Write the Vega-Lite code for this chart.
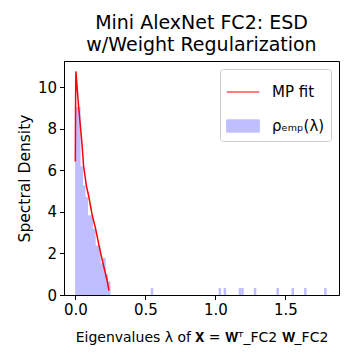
{
  "$schema": "https://vega.github.io/schema/vega-lite/v6.json",
  "width": 275,
  "height": 234,
  "autosize": {"type": "none"},
  "padding": {"left": 64, "top": 61, "right": 21, "bottom": 65},
  "background": "white",
  "title": {
    "text": ["Mini AlexNet FC2: ESD", "w/Weight Regularization"],
    "font": "DejaVu Sans",
    "fontSize": 19,
    "fontWeight": "normal",
    "color": "black",
    "anchor": "middle",
    "offset": 6,
    "lineHeight": 22
  },
  "config": {
    "view": {"stroke": "black", "strokeWidth": 1},
    "axis": {
      "grid": false,
      "domainColor": "black",
      "tickColor": "black",
      "labelColor": "black",
      "titleColor": "black",
      "labelFont": "DejaVu Sans",
      "titleFont": "DejaVu Sans",
      "labelFontSize": 15,
      "titleFontSize": 15.5,
      "titleFontWeight": "normal",
      "tickSize": 4.5,
      "labelPadding": 3,
      "domainWidth": 1,
      "tickWidth": 1
    }
  },
  "datasets": {
    "hist": [
      {"x0": 0.0, "x1": 0.01795, "density": 9.04},
      {"x0": 0.01795, "x1": 0.0359, "density": 9.04},
      {"x0": 0.0359, "x1": 0.05385, "density": 6.18},
      {"x0": 0.05385, "x1": 0.0718, "density": 5.26},
      {"x0": 0.0718, "x1": 0.08975, "density": 4.7},
      {"x0": 0.08975, "x1": 0.1077, "density": 3.82},
      {"x0": 0.1077, "x1": 0.12565, "density": 3.82},
      {"x0": 0.12565, "x1": 0.1436, "density": 3.19},
      {"x0": 0.1436, "x1": 0.16155, "density": 2.37},
      {"x0": 0.16155, "x1": 0.1795, "density": 2.37},
      {"x0": 0.1795, "x1": 0.19745, "density": 1.52},
      {"x0": 0.19745, "x1": 0.2154, "density": 1.78},
      {"x0": 0.2154, "x1": 0.23335, "density": 1.01},
      {"x0": 0.23335, "x1": 0.2513, "density": 0.66},
      {"x0": 0.5385, "x1": 0.55645, "density": 0.34},
      {"x0": 1.02315, "x1": 1.0411, "density": 0.34},
      {"x0": 1.05905, "x1": 1.077, "density": 0.34},
      {"x0": 1.16675, "x1": 1.1847, "density": 0.34},
      {"x0": 1.1847, "x1": 1.20265, "density": 0.34},
      {"x0": 1.27445, "x1": 1.2924, "density": 0.34},
      {"x0": 1.436, "x1": 1.45395, "density": 0.34},
      {"x0": 1.5437, "x1": 1.56165, "density": 0.34},
      {"x0": 1.63345, "x1": 1.6514, "density": 0.34},
      {"x0": 1.77705, "x1": 1.795, "density": 0.34}
    ],
    "mp": [
      {"lambda": 0.0, "density": 6.42},
      {"lambda": 0.002, "density": 9.6},
      {"lambda": 0.004, "density": 10.75},
      {"lambda": 0.0236, "density": 9.04},
      {"lambda": 0.0474, "density": 7.27},
      {"lambda": 0.059, "density": 6.18},
      {"lambda": 0.0786, "density": 5.26},
      {"lambda": 0.097, "density": 4.7},
      {"lambda": 0.121, "density": 3.82},
      {"lambda": 0.145, "density": 3.18},
      {"lambda": 0.169, "density": 2.37},
      {"lambda": 0.193, "density": 1.65},
      {"lambda": 0.216, "density": 1.01},
      {"lambda": 0.228, "density": 0.66},
      {"lambda": 0.24, "density": 0.21}
    ]
  },
  "layer": [
    {
      "data": {"name": "hist"},
      "transform": [{"filter": "datum.x0 < 0.3"}],
      "mark": {"type": "area", "interpolate": "step-after", "color": "#bfbfff", "opacity": 1},
      "encoding": {
        "x": {"field": "x0", "type": "quantitative"},
        "y": {"field": "density", "type": "quantitative"}
      }
    },
    {
      "data": {"name": "hist"},
      "mark": {"type": "rect", "color": "#bfbfff", "opacity": 1},
      "encoding": {
        "x": {
          "field": "x0",
          "type": "quantitative",
          "scale": {"domain": [-0.081, 1.883], "nice": false, "zero": false},
          "axis": {"values": [0, 0.5, 1, 1.5], "format": ".1f", "title": "Eigenvalues λ of 𝐗 = 𝐖ᵀ_FC2 𝐖_FC2", "titleFontSize": 14, "titlePadding": 13}
        },
        "x2": {"field": "x1"},
        "y": {
          "field": "density",
          "type": "quantitative",
          "scale": {"domain": [0, 11.25], "nice": false},
          "axis": {"values": [0, 2, 4, 6, 8, 10], "title": "Spectral Density", "titlePadding": 5}
        },
        "y2": {"datum": 0}
      }
    },
    {
      "data": {"name": "mp"},
      "mark": {"type": "line", "strokeWidth": 1.5},
      "encoding": {
        "x": {"field": "lambda", "type": "quantitative"},
        "y": {"field": "density", "type": "quantitative"},
        "color": {
          "datum": "MP fit",
          "type": "nominal",
          "scale": {"domain": ["MP fit", "ρₑₘₚ(λ)"], "range": ["red", "#bfbfff"]},
          "legend": {
            "orient": "top-right",
            "offset": 7.6,
            "title": null,
            "labelFont": "DejaVu Sans",
            "labelFontSize": 15,
            "labelColor": "black",
            "strokeColor": "#cccccc",
            "fillColor": "white",
            "cornerRadius": 3,
            "padding": 6,
            "rowPadding": 9,
            "labelOffset": 12,
            "symbolSize": 1070,
            "encode": {
              "symbols": {
                "update": {
                  "shape": {"signal": "datum.value === 'MP fit' ? 'M-1,0H1' : 'M-1,-0.375H1V0.375H-1Z'"},
                  "fill": {"signal": "datum.value === 'MP fit' ? 'transparent' : '#bfbfff'"},
                  "stroke": {"signal": "datum.value === 'MP fit' ? 'red' : 'transparent'"},
                  "strokeWidth": {"value": 1},
                  "opacity": {"value": 1},
                  "size": {"value": 1070}
                }
              }
            }
          }
        }
      }
    }
  ]
}
